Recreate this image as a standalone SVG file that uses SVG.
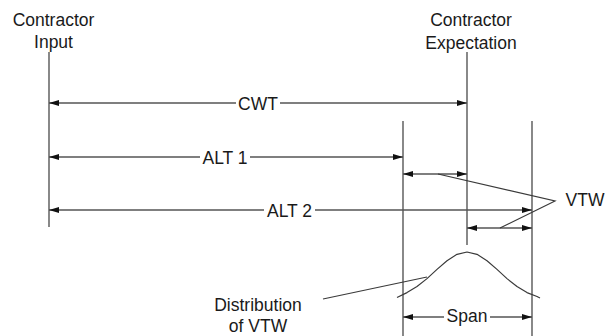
<svg xmlns="http://www.w3.org/2000/svg" width="613" height="336" viewBox="0 0 613 336">
<style>
text{font-family:"Liberation Sans",Arial,sans-serif;font-size:17.5px;fill:#1a1a1a;text-anchor:middle}
.ln{stroke:#3a3a3a;stroke-width:1.2;fill:none}
.ar{stroke:#555;stroke-width:1.3;fill:none;marker-start:url(#ah);marker-end:url(#ah)}
.bg{fill:#fff;stroke:none}
</style>
<defs>
<marker id="ah" viewBox="0 0 10 6" refX="10" refY="3" markerWidth="10" markerHeight="6" markerUnits="userSpaceOnUse" orient="auto-start-reverse">
<path d="M0,0 L10,3 L0,6 Z" fill="#111"/>
</marker>
</defs>
<g id="contractor-input">
<text x="53.5" y="26">Contractor</text>
<text x="53.5" y="48">Input</text>
<line class="ln" x1="49" y1="52" x2="49" y2="227"/>
</g>
<g id="contractor-expectation">
<text x="471" y="25.5">Contractor</text>
<text x="471" y="49">Expectation</text>
<line class="ln" x1="467" y1="52" x2="467" y2="245"/>
</g>
<g id="vtw-bounds">
<line class="ln" x1="403" y1="121" x2="403" y2="336"/>
<line class="ln" x1="532" y1="121" x2="532" y2="336"/>
</g>
<g id="connectors">
<line class="ar" x1="49" y1="103" x2="467" y2="103"/>
<line class="ar" x1="49" y1="157" x2="403" y2="157"/>
<line class="ar" x1="403" y1="174" x2="467" y2="174"/>
<line class="ar" x1="49" y1="210" x2="532" y2="210"/>
<line class="ar" x1="467" y1="228" x2="532" y2="228"/>
<line class="ar" x1="403" y1="317" x2="532" y2="317"/>
<polyline class="ln" points="438,174 555,201 500,228"/>
<line class="ln" x1="323" y1="299" x2="427" y2="277"/>
<polyline class="ln" stroke-width="1.6" stroke-linejoin="round" points="397,297.5 407,292.6 417,286.5 427,278.6 437,269.4 447,260.7 457,254.3 467,252 477,254.3 487,260.7 497,269.4 507,278.6 517,286.5 527,292.6 537,296.5 540,298"/>
</g>
<g id="labels">
<rect class="bg" x="236" y="94" width="44" height="18"/>
<text x="258" y="109.5">CWT</text>
<rect class="bg" x="200" y="148" width="50" height="18"/>
<text x="225" y="163.5">ALT 1</text>
<rect class="bg" x="264" y="201" width="51" height="18"/>
<text x="289.5" y="216.5">ALT 2</text>
<rect class="bg" x="444" y="308" width="46" height="18"/>
<text x="467" y="322">Span</text>
<text x="585" y="206">VTW</text>
<text x="258" y="310.5">Distribution</text>
<text x="258" y="331.5">of VTW</text>
</g>
</svg>
